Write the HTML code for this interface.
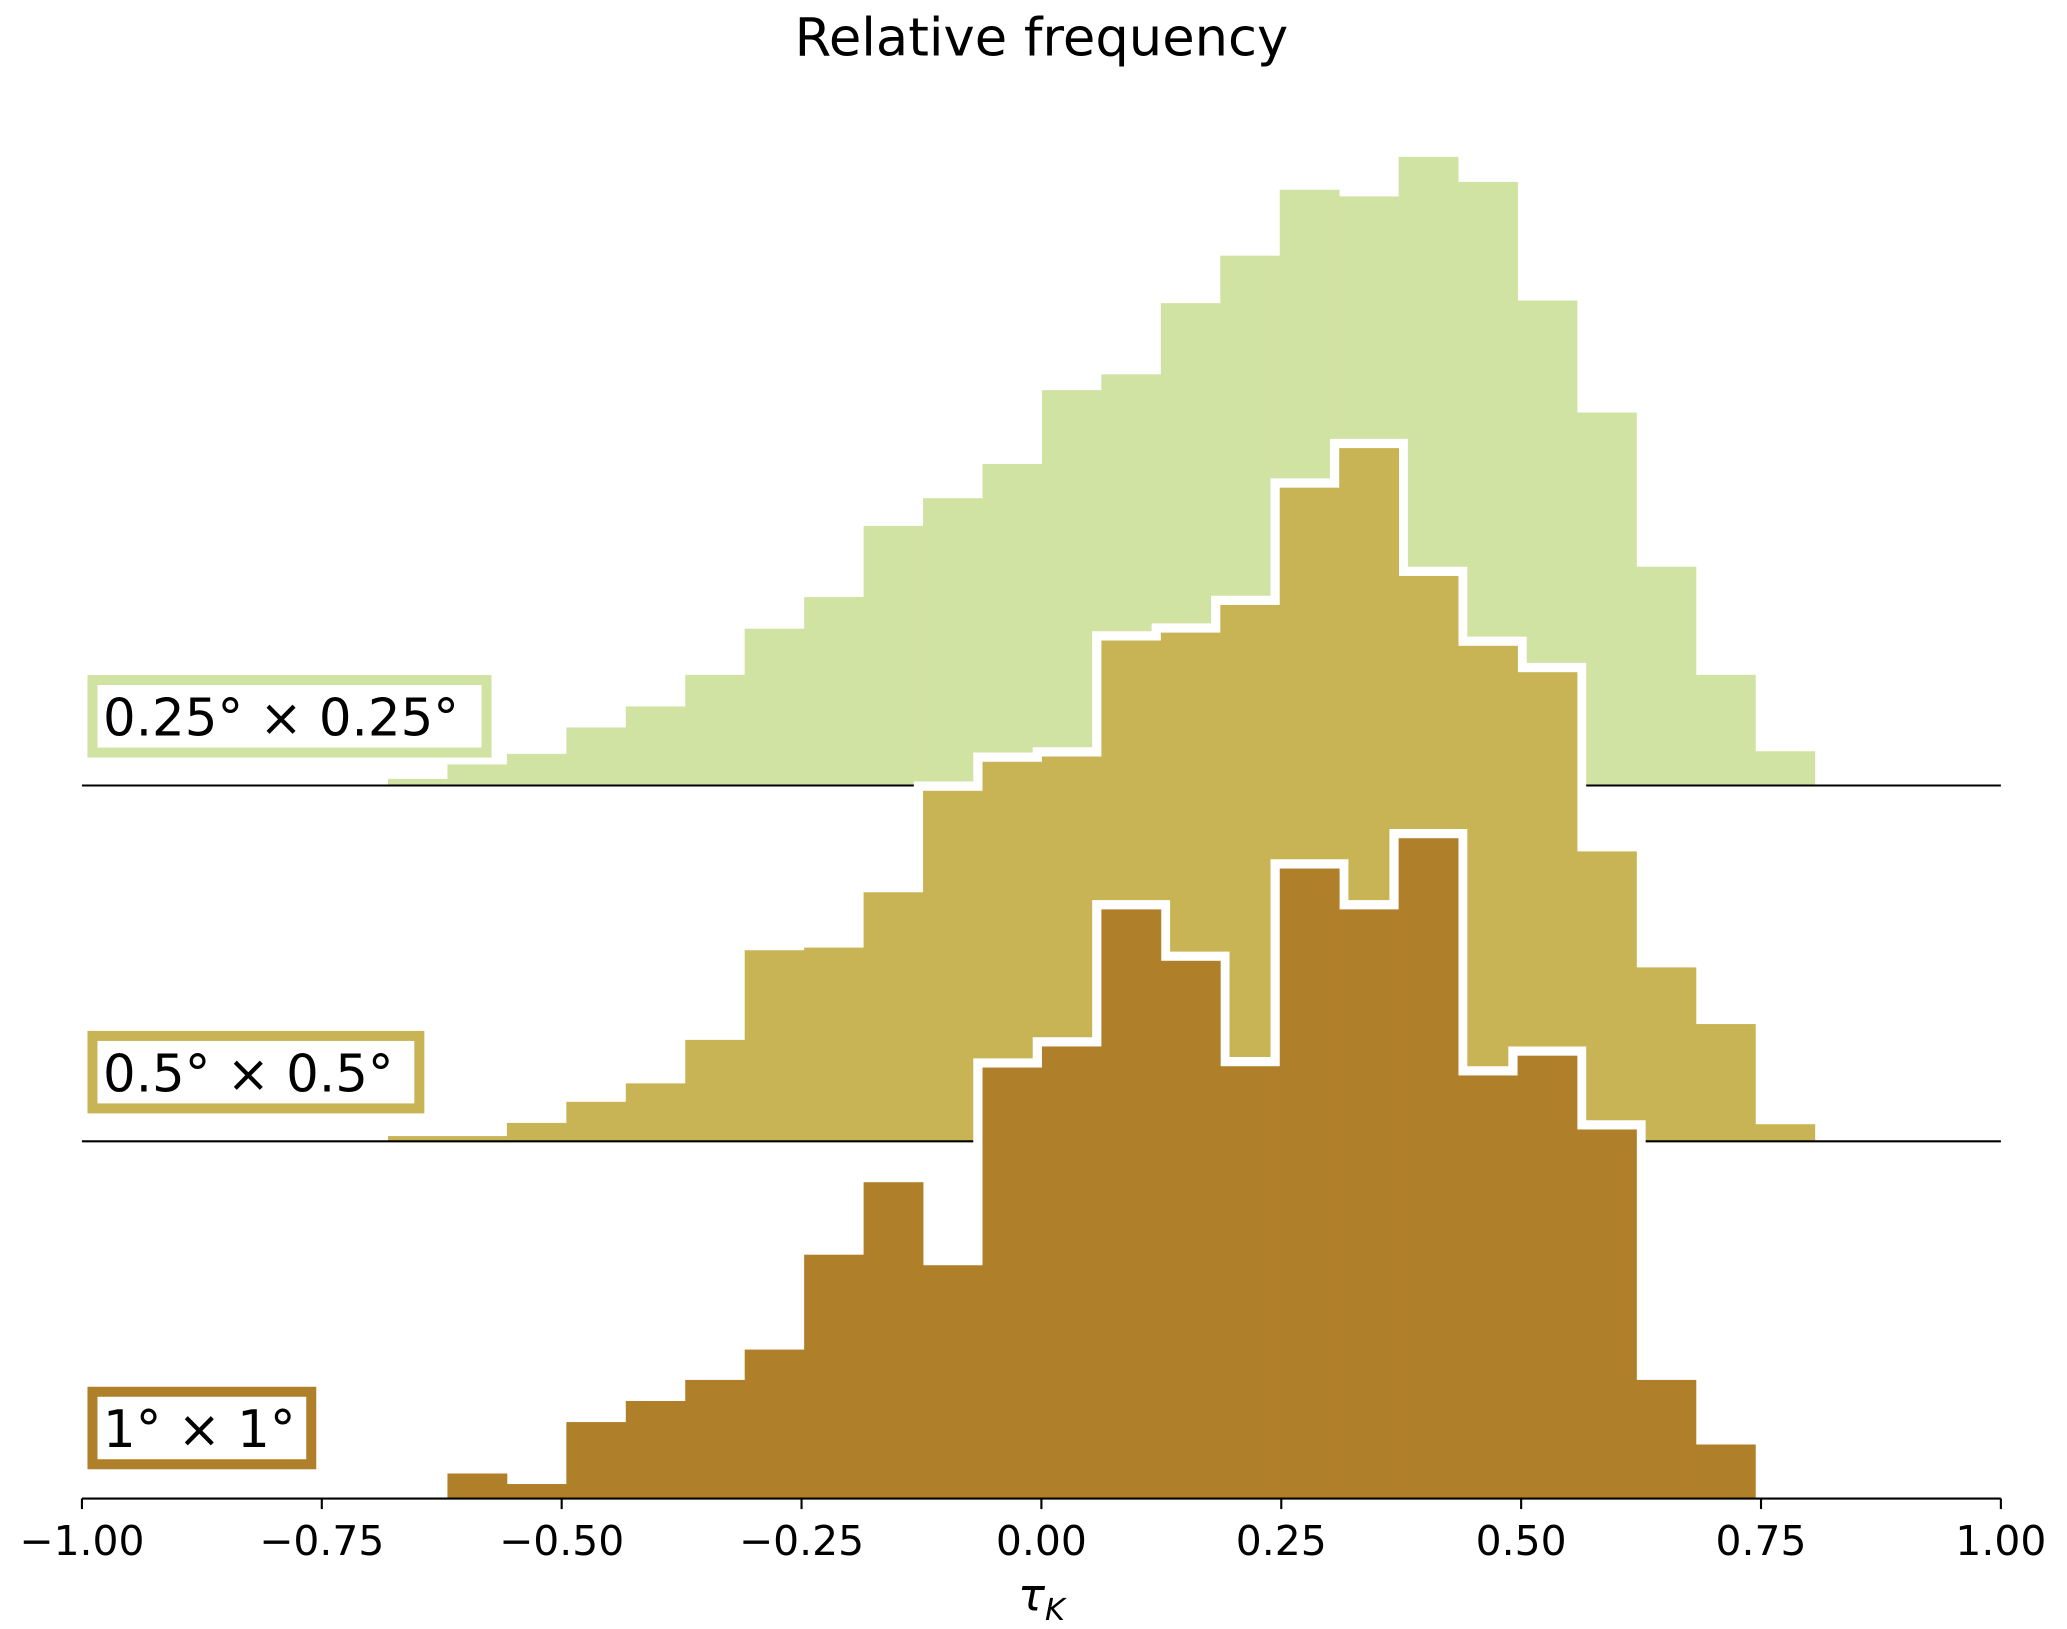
<!DOCTYPE html>
<html><head><meta charset="utf-8"><style>
html,body{margin:0;padding:0;background:#fff}
svg{display:block}
text{font-family:"DejaVu Sans","Liberation Sans",sans-serif}
</style></head><body>
<svg id="chart" width="2067" height="1629" viewBox="0 0 1568 1236" xmlns="http://www.w3.org/2000/svg">
<text x="790" y="42" font-size="40" text-anchor="middle">Relative frequency</text>
<g id="plot"></g>
</svg>
<script>
const binStart = -0.681;
const binWidth = 0.06196;
const seriesGreen = [5,16,24,44,60,84,119,143,197,218,244,300,312,366,402,452,447,477,458,368,283,166,84,26];
const seriesMid = [4,4,14,30,44,77,145,147,189,266,288,292,380,386,407,496,526,429,376,356,220,132,89,13];
const seriesBottom = [0,19,11,58,74,90,113,185,240,177,327,343,447,408,328,478,447,501,321,336,280,90,41,0];
const xTicks = [-1.00,-0.75,-0.50,-0.25,0.00,0.25,0.50,0.75,1.00];
const labels = ["0.25° × 0.25°","0.5° × 0.5°","1° × 1°"];

const NS="http://www.w3.org/2000/svg";
const g=document.getElementById('plot');
const X0=62,X1=1518;
function xs(v){return X0+(v+1)/2*(X1-X0);}
const baselines=[596,866,1137];
const colors=["#d1e3a3","#c8b455","#b07f2a"];
const data=[seriesGreen,seriesMid,seriesBottom];
const names=["green-0.25deg","mid-0.5deg","bottom-1deg"];
function mk(t,a){const e=document.createElementNS(NS,t);for(const k in a)e.setAttribute(k,a[k]);g.appendChild(e);return e;}

for(let s=0;s<3;s++){
  const base=baselines[s], vals=data[s];
  if(s>0){
    let d="",started=false,last=0;
    for(let i=0;i<vals.length;i++){
      if(vals[i]<=0)continue;
      const xa=xs(binStart+i*binWidth), xb=xs(binStart+(i+1)*binWidth), y=base-vals[i];
      if(!started){d+=`M${xa},${base} L${xa},${y} `;started=true;}
      else d+=`L${xa},${y} `;
      d+=`L${xb},${y} `;last=xb;
    }
    d+=`L${last},${base}`;
    const o=mk('path',{d:d,fill:'none',stroke:'#fff','stroke-width':14,'stroke-linejoin':'miter'});
    
    
  }
  for(let i=0;i<vals.length;i++){
    if(vals[i]<=0)continue;
    const xa=xs(binStart+i*binWidth), xb=xs(binStart+(i+1)*binWidth);
    const r=mk('rect',{x:xa,y:base-vals[i],width:xb-xa+0.3,height:vals[i],fill:colors[s]});
    
    
  }
  if(s<2){
    const l=mk('line',{x1:X0,x2:X1,y1:base,y2:base,stroke:'#000','stroke-width':1.6});
    
    
  }
}
const boxes=[[70,516,299,55],[70,786,248,55],[70,1056,166,55]];
for(let s=0;s<3;s++){
  const b=boxes[s];
  const r=mk('rect',{x:b[0],y:b[1],width:b[2],height:b[3],fill:'#fff',stroke:colors[s],'stroke-width':7.6});
  
  
  const t=mk('text',{x:b[0]+8,y:b[1]+42,'font-size':39});
  t.textContent=labels[s];
  
  
}
const ax=mk('line',{x1:X0,x2:X1,y1:1137,y2:1137,stroke:'#000','stroke-width':1.6});


for(const v of xTicks){
  const x=xs(v);
  const tk=mk('line',{x1:x,x2:x,y1:1137,y2:1145,stroke:'#000','stroke-width':1.6});
  
  
  const t=mk('text',{x:x,y:1180,'font-size':31,'text-anchor':'middle'});
  t.textContent=(v<0?'\u2212':'')+Math.abs(v).toFixed(2);
  
  
}
const xl=mk('text',{x:790,y:1222,'font-size':34,'text-anchor':'middle','font-style':'italic'});
xl.innerHTML='τ<tspan font-size="23" dy="7">K</tspan>';


</script>
</body></html>
